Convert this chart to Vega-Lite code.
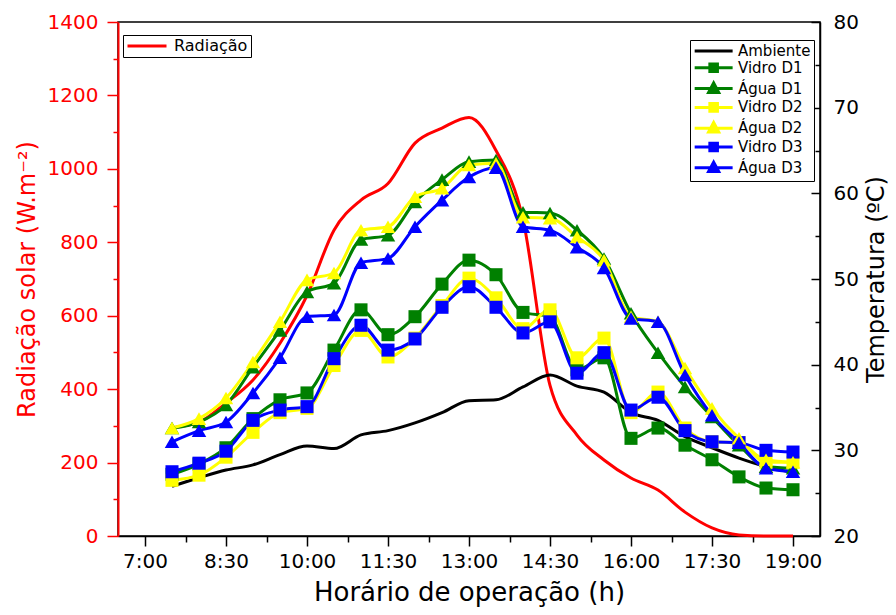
{
  "$schema": "https://vega.github.io/schema/vega-lite/v6.json",
  "width": 702,
  "height": 514,
  "autosize": {"type": "none"},
  "padding": {"left": 118, "top": 22, "right": 76, "bottom": 79},
  "background": "white",
  "config": {
    "view": {"stroke": "#000", "strokeWidth": 1.5},
    "font": "DejaVu Sans",
    "axis": {
      "grid": false,
      "labelFont": "DejaVu Sans",
      "titleFont": "DejaVu Sans",
      "titleFontWeight": "normal",
      "labelFontSize": 20,
      "titleFontSize": 24,
      "domainColor": "#000",
      "tickColor": "#000",
      "labelColor": "#000",
      "titleColor": "#000",
      "domainWidth": 1.5,
      "tickWidth": 1.5,
      "labelFlush": false,
      "labelOverlap": false
    },
    "legend": {"labelFont": "DejaVu Sans", "labelColor": "#000"}
  },
  "datasets": {
    "rad": [
      {"t": 7.5, "rad": 295}, {"t": 8, "rad": 310}, {"t": 8.5, "rad": 362}, {"t": 9, "rad": 425},
      {"t": 9.5, "rad": 525}, {"t": 10, "rad": 655}, {"t": 10.5, "rad": 833}, {"t": 11, "rad": 915},
      {"t": 11.5, "rad": 960}, {"t": 12, "rad": 1070}, {"t": 12.5, "rad": 1111}, {"t": 13, "rad": 1140},
      {"t": 13.5, "rad": 1050}, {"t": 14, "rad": 862}, {"t": 14.5, "rad": 410}, {"t": 15, "rad": 275},
      {"t": 15.5, "rad": 207}, {"t": 16, "rad": 158}, {"t": 16.5, "rad": 125}, {"t": 17, "rad": 65},
      {"t": 17.5, "rad": 22}, {"t": 18, "rad": 3}, {"t": 18.5, "rad": 0}, {"t": 19, "rad": 0}
    ],
    "temp": [
      {"t": 7.5, "series": "Ambiente", "v": 25.8}, {"t": 8, "series": "Ambiente", "v": 26.8}, {"t": 8.5, "series": "Ambiente", "v": 27.7}, {"t": 9, "series": "Ambiente", "v": 28.3},
      {"t": 9.5, "series": "Ambiente", "v": 29.5}, {"t": 10, "series": "Ambiente", "v": 30.5}, {"t": 10.5, "series": "Ambiente", "v": 30.2}, {"t": 11, "series": "Ambiente", "v": 31.8},
      {"t": 11.5, "series": "Ambiente", "v": 32.3}, {"t": 12, "series": "Ambiente", "v": 33.2}, {"t": 12.5, "series": "Ambiente", "v": 34.4}, {"t": 13, "series": "Ambiente", "v": 35.8},
      {"t": 13.5, "series": "Ambiente", "v": 35.9}, {"t": 14, "series": "Ambiente", "v": 37.4}, {"t": 14.5, "series": "Ambiente", "v": 38.8}, {"t": 15, "series": "Ambiente", "v": 37.5},
      {"t": 15.5, "series": "Ambiente", "v": 36.8}, {"t": 16, "series": "Ambiente", "v": 34.4}, {"t": 16.5, "series": "Ambiente", "v": 33.5}, {"t": 17, "series": "Ambiente", "v": 31.6},
      {"t": 17.5, "series": "Ambiente", "v": 30.3}, {"t": 18, "series": "Ambiente", "v": 29.1}, {"t": 18.5, "series": "Ambiente", "v": 28.1}, {"t": 19, "series": "Ambiente", "v": 27.4},

      {"t": 7.5, "series": "Vidro D1", "v": 27.2}, {"t": 8, "series": "Vidro D1", "v": 28.4}, {"t": 8.5, "series": "Vidro D1", "v": 30.3}, {"t": 9, "series": "Vidro D1", "v": 33.7},
      {"t": 9.5, "series": "Vidro D1", "v": 35.9}, {"t": 10, "series": "Vidro D1", "v": 36.7}, {"t": 10.5, "series": "Vidro D1", "v": 41.7}, {"t": 11, "series": "Vidro D1", "v": 46.4},
      {"t": 11.5, "series": "Vidro D1", "v": 43.5}, {"t": 12, "series": "Vidro D1", "v": 45.6}, {"t": 12.5, "series": "Vidro D1", "v": 49.4}, {"t": 13, "series": "Vidro D1", "v": 52.2},
      {"t": 13.5, "series": "Vidro D1", "v": 50.5}, {"t": 14, "series": "Vidro D1", "v": 46.1}, {"t": 14.5, "series": "Vidro D1", "v": 45.6}, {"t": 15, "series": "Vidro D1", "v": 39.4},
      {"t": 15.5, "series": "Vidro D1", "v": 40.8}, {"t": 16, "series": "Vidro D1", "v": 31.4}, {"t": 16.5, "series": "Vidro D1", "v": 32.6}, {"t": 17, "series": "Vidro D1", "v": 30.6},
      {"t": 17.5, "series": "Vidro D1", "v": 28.9}, {"t": 18, "series": "Vidro D1", "v": 26.9}, {"t": 18.5, "series": "Vidro D1", "v": 25.6}, {"t": 19, "series": "Vidro D1", "v": 25.4},

      {"t": 7.5, "series": "Água D1", "v": 32.6}, {"t": 8, "series": "Água D1", "v": 33.3}, {"t": 8.5, "series": "Água D1", "v": 35.3}, {"t": 9, "series": "Água D1", "v": 39.7},
      {"t": 9.5, "series": "Água D1", "v": 44.0}, {"t": 10, "series": "Água D1", "v": 48.5}, {"t": 10.5, "series": "Água D1", "v": 49.5}, {"t": 11, "series": "Água D1", "v": 54.6},
      {"t": 11.5, "series": "Água D1", "v": 55.1}, {"t": 12, "series": "Água D1", "v": 59.0}, {"t": 12.5, "series": "Água D1", "v": 61.6}, {"t": 13, "series": "Água D1", "v": 63.7},
      {"t": 13.5, "series": "Água D1", "v": 63.9}, {"t": 14, "series": "Água D1", "v": 57.8}, {"t": 14.5, "series": "Água D1", "v": 57.7}, {"t": 15, "series": "Água D1", "v": 55.7},
      {"t": 15.5, "series": "Água D1", "v": 52.4}, {"t": 16, "series": "Água D1", "v": 46.0}, {"t": 16.5, "series": "Água D1", "v": 41.4}, {"t": 17, "series": "Água D1", "v": 37.4},
      {"t": 17.5, "series": "Água D1", "v": 33.9}, {"t": 18, "series": "Água D1", "v": 30.6}, {"t": 18.5, "series": "Água D1", "v": 28.1}, {"t": 19, "series": "Água D1", "v": 27.9},

      {"t": 7.5, "series": "Vidro D2", "v": 26.5}, {"t": 8, "series": "Vidro D2", "v": 27.1}, {"t": 8.5, "series": "Vidro D2", "v": 29.2}, {"t": 9, "series": "Vidro D2", "v": 32.1},
      {"t": 9.5, "series": "Vidro D2", "v": 34.4}, {"t": 10, "series": "Vidro D2", "v": 34.9}, {"t": 10.5, "series": "Vidro D2", "v": 39.9}, {"t": 11, "series": "Vidro D2", "v": 44.0},
      {"t": 11.5, "series": "Vidro D2", "v": 40.9}, {"t": 12, "series": "Vidro D2", "v": 43.1}, {"t": 12.5, "series": "Vidro D2", "v": 46.9}, {"t": 13, "series": "Vidro D2", "v": 50.1},
      {"t": 13.5, "series": "Vidro D2", "v": 47.8}, {"t": 14, "series": "Vidro D2", "v": 44.2}, {"t": 14.5, "series": "Vidro D2", "v": 46.4}, {"t": 15, "series": "Vidro D2", "v": 40.8},
      {"t": 15.5, "series": "Vidro D2", "v": 43.1}, {"t": 16, "series": "Vidro D2", "v": 34.4}, {"t": 16.5, "series": "Vidro D2", "v": 36.8}, {"t": 17, "series": "Vidro D2", "v": 32.6},
      {"t": 17.5, "series": "Vidro D2", "v": 31.0}, {"t": 18, "series": "Vidro D2", "v": 30.9}, {"t": 18.5, "series": "Vidro D2", "v": 28.6}, {"t": 19, "series": "Vidro D2", "v": 28.6},

      {"t": 7.5, "series": "Água D2", "v": 32.6}, {"t": 8, "series": "Água D2", "v": 33.7}, {"t": 8.5, "series": "Água D2", "v": 36.1}, {"t": 9, "series": "Água D2", "v": 40.3},
      {"t": 9.5, "series": "Água D2", "v": 45.0}, {"t": 10, "series": "Água D2", "v": 49.9}, {"t": 10.5, "series": "Água D2", "v": 50.7}, {"t": 11, "series": "Água D2", "v": 55.7},
      {"t": 11.5, "series": "Água D2", "v": 56.1}, {"t": 12, "series": "Água D2", "v": 59.6}, {"t": 12.5, "series": "Água D2", "v": 60.6}, {"t": 13, "series": "Água D2", "v": 63.3},
      {"t": 13.5, "series": "Água D2", "v": 63.5}, {"t": 14, "series": "Água D2", "v": 57.2}, {"t": 14.5, "series": "Água D2", "v": 57.1}, {"t": 15, "series": "Água D2", "v": 54.9},
      {"t": 15.5, "series": "Água D2", "v": 52.2}, {"t": 16, "series": "Água D2", "v": 45.6}, {"t": 16.5, "series": "Água D2", "v": 45.0}, {"t": 17, "series": "Água D2", "v": 39.6},
      {"t": 17.5, "series": "Água D2", "v": 34.9}, {"t": 18, "series": "Água D2", "v": 31.4}, {"t": 18.5, "series": "Água D2", "v": 28.9}, {"t": 19, "series": "Água D2", "v": 28.6},

      {"t": 7.5, "series": "Vidro D3", "v": 27.5}, {"t": 8, "series": "Vidro D3", "v": 28.5}, {"t": 8.5, "series": "Vidro D3", "v": 29.9}, {"t": 9, "series": "Vidro D3", "v": 33.5},
      {"t": 9.5, "series": "Vidro D3", "v": 34.7}, {"t": 10, "series": "Vidro D3", "v": 35.1}, {"t": 10.5, "series": "Vidro D3", "v": 40.7}, {"t": 11, "series": "Vidro D3", "v": 44.6},
      {"t": 11.5, "series": "Vidro D3", "v": 41.7}, {"t": 12, "series": "Vidro D3", "v": 43.0}, {"t": 12.5, "series": "Vidro D3", "v": 46.7}, {"t": 13, "series": "Vidro D3", "v": 49.1},
      {"t": 13.5, "series": "Vidro D3", "v": 46.7}, {"t": 14, "series": "Vidro D3", "v": 43.7}, {"t": 14.5, "series": "Vidro D3", "v": 45.0}, {"t": 15, "series": "Vidro D3", "v": 39.0},
      {"t": 15.5, "series": "Vidro D3", "v": 41.4}, {"t": 16, "series": "Vidro D3", "v": 34.7}, {"t": 16.5, "series": "Vidro D3", "v": 36.2}, {"t": 17, "series": "Vidro D3", "v": 32.3},
      {"t": 17.5, "series": "Vidro D3", "v": 31.0}, {"t": 18, "series": "Vidro D3", "v": 30.9}, {"t": 18.5, "series": "Vidro D3", "v": 30.0}, {"t": 19, "series": "Vidro D3", "v": 29.8},

      {"t": 7.5, "series": "Água D3", "v": 31.0}, {"t": 8, "series": "Água D3", "v": 32.3}, {"t": 8.5, "series": "Água D3", "v": 33.3}, {"t": 9, "series": "Água D3", "v": 36.7},
      {"t": 9.5, "series": "Água D3", "v": 40.8}, {"t": 10, "series": "Água D3", "v": 45.6}, {"t": 10.5, "series": "Água D3", "v": 45.8}, {"t": 11, "series": "Água D3", "v": 51.9},
      {"t": 11.5, "series": "Água D3", "v": 52.4}, {"t": 12, "series": "Água D3", "v": 56.1}, {"t": 12.5, "series": "Água D3", "v": 59.2}, {"t": 13, "series": "Água D3", "v": 61.9},
      {"t": 13.5, "series": "Água D3", "v": 63.0}, {"t": 14, "series": "Água D3", "v": 56.1}, {"t": 14.5, "series": "Água D3", "v": 55.7}, {"t": 15, "series": "Água D3", "v": 53.7},
      {"t": 15.5, "series": "Água D3", "v": 51.3}, {"t": 16, "series": "Água D3", "v": 45.4}, {"t": 16.5, "series": "Água D3", "v": 45.0}, {"t": 17, "series": "Água D3", "v": 38.8},
      {"t": 17.5, "series": "Água D3", "v": 34.1}, {"t": 18, "series": "Água D3", "v": 30.9}, {"t": 18.5, "series": "Água D3", "v": 27.9}, {"t": 19, "series": "Água D3", "v": 27.5}
    ]
  },
  "layer": [
    {
      "data": {"name": "rad"},
      "layer": [
        {
          "mark": {"type": "line", "interpolate": "monotone", "strokeWidth": 3},
          "encoding": {
            "x": {
              "field": "t", "type": "quantitative",
              "scale": {"domain": [6.5, 19.5], "nice": false, "zero": false},
              "axis": {
                "orient": "bottom",
                "values": [7, 8.5, 10, 11.5, 13, 14.5, 16, 17.5, 19],
                "labelExpr": "floor(datum.value) + ':' + (datum.value % 1 ? '30' : '00')",
                "tickSize": 10, "labelPadding": 5,
                "title": "Horário de operação (h)", "titleFontSize": 26, "titlePadding": 8
              }
            },
            "y": {
              "field": "rad", "type": "quantitative",
              "scale": {"domain": [0, 1400], "nice": false, "zero": false},
              "axis": {
                "orient": "left",
                "values": [0, 200, 400, 600, 800, 1000, 1200, 1400],
                "format": "d",
                "tickSize": 11, "labelPadding": 9,
                "tickColor": "#ff0000", "domainColor": "#ff0000", "labelColor": "#ff0000", "titleColor": "#ff0000",
                "domainWidth": 2,
                "title": "Radiação solar (W.m⁻²)", "titleFontSize": 24, "titlePadding": 8
              }
            },
            "color": {
              "datum": "Radiação",
              "scale": {"domain": ["Radiação"], "range": ["#ff0000"]},
              "legend": {
                "orient": "none", "legendX": 5, "legendY": 13, "title": null,
                "symbolType": "M-1,0H5", "symbolSize": 169, "symbolStrokeWidth": 3,
                "labelFontSize": 16, "labelOffset": 32,
                "strokeColor": "#000", "fillColor": "#fff", "padding": 3
              }
            }
          }
        },
        {
          "mark": {"type": "line", "strokeOpacity": 0},
          "encoding": {
            "x": {
              "field": "t", "type": "quantitative",
              "scale": {"domain": [6.5, 19.5], "nice": false, "zero": false},
              "axis": {
                "orient": "bottom",
                "values": [7.75, 9.25, 10.75, 12.25, 13.75, 15.25, 16.75, 18.25],
                "tickSize": 6, "labels": false, "domain": false, "title": null
              }
            },
            "y": {
              "field": "rad", "type": "quantitative",
              "scale": {"domain": [0, 1400], "nice": false, "zero": false},
              "axis": {
                "orient": "left",
                "values": [100, 300, 500, 700, 900, 1100, 1300],
                "tickSize": 5, "tickColor": "#ff0000", "labels": false, "domain": false, "title": null
              }
            }
          }
        }
      ],
      "resolve": {"axis": {"x": "independent", "y": "independent"}}
    },
    {
      "data": {"name": "temp"},
      "layer": [
        {
          "mark": {"type": "line", "interpolate": "monotone", "strokeWidth": 3},
          "encoding": {
            "x": {
              "field": "t", "type": "quantitative",
              "scale": {"domain": [6.5, 19.5], "nice": false, "zero": false},
              "axis": {
                "orient": "top",
                "values": [7.8, 9.1, 10.4, 11.7, 13, 14.3, 15.6, 16.9, 18.2],
                "tickSize": -10, "labels": false, "domain": false, "title": null
              }
            },
            "y": {
              "field": "v", "type": "quantitative",
              "scale": {"domain": [20, 80], "nice": false, "zero": false},
              "axis": {
                "orient": "right",
                "values": [20, 30, 40, 50, 60, 70, 80],
                "tickSize": -9, "labelPadding": 22,
                "title": "Temperatura (ºC)", "titleAngle": 270, "titleBaseline": "top", "titleFontSize": 24, "titlePadding": 6
              }
            },
            "color": {
              "field": "series", "type": "nominal",
              "scale": {"domain": ["Ambiente", "Vidro D1", "Água D1", "Vidro D2", "Água D2", "Vidro D3", "Água D3"], "range": ["#000000", "#008000", "#008000", "#ffff00", "#ffff00", "#0000ff", "#0000ff"]},
              "legend": null
            }
          }
        },
        {
          "transform": [{"filter": "indexof(datum.series, 'Vidro') === 0"}],
          "mark": {"type": "point", "shape": "square", "filled": true, "opacity": 1, "size": 170},
          "encoding": {
            "x": {"field": "t", "type": "quantitative", "scale": {"domain": [6.5, 19.5], "nice": false, "zero": false}, "axis": null},
            "y": {
              "field": "v", "type": "quantitative",
              "scale": {"domain": [20, 80], "nice": false, "zero": false},
              "axis": {
                "orient": "right",
                "values": [25, 35, 45, 55, 65, 75],
                "tickSize": -5, "labels": false, "domain": false, "title": null
              }
            },
            "color": {
              "field": "series", "type": "nominal",
              "scale": {"domain": ["Ambiente", "Vidro D1", "Água D1", "Vidro D2", "Água D2", "Vidro D3", "Água D3"], "range": ["#000000", "#008000", "#008000", "#ffff00", "#ffff00", "#0000ff", "#0000ff"]},
              "legend": null
            }
          }
        },
        {
          "transform": [{"filter": "indexof(datum.series, 'Água') === 0"}],
          "mark": {"type": "point", "shape": "triangle-up", "filled": true, "opacity": 1, "size": 210},
          "encoding": {
            "x": {"field": "t", "type": "quantitative", "scale": {"domain": [6.5, 19.5], "nice": false, "zero": false}, "axis": null},
            "y": {"field": "v", "type": "quantitative", "scale": {"domain": [20, 80], "nice": false, "zero": false}, "axis": null},
            "color": {
              "field": "series", "type": "nominal",
              "scale": {"domain": ["Ambiente", "Vidro D1", "Água D1", "Vidro D2", "Água D2", "Vidro D3", "Água D3"], "range": ["#000000", "#008000", "#008000", "#ffff00", "#ffff00", "#0000ff", "#0000ff"]},
              "legend": null
            }
          }
        },
        {
          "mark": {"type": "point", "filled": true, "opacity": 0},
          "encoding": {
            "x": {"field": "t", "type": "quantitative", "scale": {"domain": [6.5, 19.5], "nice": false, "zero": false}, "axis": null},
            "y": {"field": "v", "type": "quantitative", "scale": {"domain": [20, 80], "nice": false, "zero": false}, "axis": null},
            "fill": {
              "field": "series", "type": "nominal",
              "scale": {"domain": ["Ambiente", "Vidro D1", "Água D1", "Vidro D2", "Água D2", "Vidro D3", "Água D3"], "range": ["#000000", "#008000", "#008000", "#ffff00", "#ffff00", "#0000ff", "#0000ff"]},
              "legend": {
                "orient": "none", "legendX": 572, "legendY": 18, "title": null,
                "symbolSize": 160, "symbolStrokeWidth": 3, "symbolOpacity": 1,
                "labelFontSize": 15, "labelOffset": 29, "rowPadding": -1.2,
                "strokeColor": "#000", "fillColor": "#fff", "padding": 3
              }
            },
            "stroke": {
              "field": "series", "type": "nominal",
              "scale": {"domain": ["Ambiente", "Vidro D1", "Água D1", "Vidro D2", "Água D2", "Vidro D3", "Água D3"], "range": ["#000000", "#008000", "#008000", "#ffff00", "#ffff00", "#0000ff", "#0000ff"]},
              "legend": {
                "orient": "none", "legendX": 572, "legendY": 18, "title": null,
                "symbolSize": 160, "symbolStrokeWidth": 3, "symbolOpacity": 1,
                "labelFontSize": 15, "labelOffset": 29, "rowPadding": -1.2,
                "strokeColor": "#000", "fillColor": "#fff", "padding": 3
              }
            },
            "shape": {
              "field": "series", "type": "nominal",
              "scale": {
                "domain": ["Ambiente", "Vidro D1", "Água D1", "Vidro D2", "Água D2", "Vidro D3", "Água D3"],
                "range": [
                  "M-1,0H5",
                  "M-1,0H5M1.4,-0.6H2.6V0.6H1.4Z",
                  "M-1,0H5M2,-0.9L2.8,0.6H1.2Z",
                  "M-1,0H5M1.4,-0.6H2.6V0.6H1.4Z",
                  "M-1,0H5M2,-0.9L2.8,0.6H1.2Z",
                  "M-1,0H5M1.4,-0.6H2.6V0.6H1.4Z",
                  "M-1,0H5M2,-0.9L2.8,0.6H1.2Z"
                ]
              },
              "legend": {
                "orient": "none", "legendX": 572, "legendY": 18, "title": null,
                "symbolSize": 160, "symbolStrokeWidth": 3, "symbolOpacity": 1,
                "labelFontSize": 15, "labelOffset": 29, "rowPadding": -1.2,
                "strokeColor": "#000", "fillColor": "#fff", "padding": 3
              }
            }
          }
        }
      ],
      "resolve": {"axis": {"y": "independent"}}
    }
  ],
  "resolve": {"scale": {"y": "independent", "color": "independent"}, "axis": {"x": "independent", "y": "independent"}}
}
